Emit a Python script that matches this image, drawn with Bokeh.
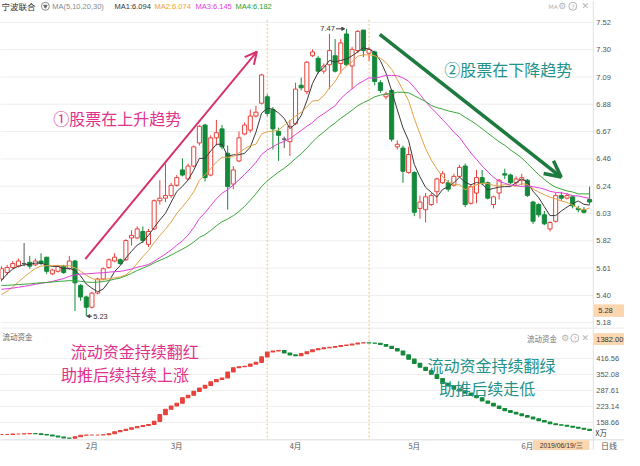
import numpy as np
from bokeh.plotting import figure
from bokeh.layouts import column
from bokeh.models import (ColumnDataSource, Arrow, OpenHead, NormalHead, Label, Range1d)
from bokeh.core.properties import value
from bokeh.embed import file_html
from bokeh.resources import INLINE

# ---------------- data ----------------
opens = [5.52, 5.57, 5.61, 5.62, 5.64, 5.65, 5.63, 5.66, 5.69, 5.56,
         5.58, 5.62, 5.60, 5.66, 5.47, 5.38, 5.30, 5.41, 5.52, 5.61,
         5.66, 5.67, 5.67, 5.84, 5.84, 5.89, 5.79, 5.91, 6.13, 6.15,
         6.17, 6.25, 6.37, 6.30, 6.40, 6.58, 6.72, 6.33, 6.62, 6.69,
         6.50, 6.26, 6.44, 6.65, 6.68, 6.79, 6.89, 6.94, 6.84, 6.67,
         6.61, 6.59, 6.73, 7.03, 6.98, 7.26, 7.24, 7.14, 7.19, 7.26,
         7.20, 7.43, 7.18, 7.30, 7.46, 7.28, 7.29, 7.05, 6.94, 6.99,
         6.55, 6.54, 6.35, 6.35, 6.07, 6.06, 6.10, 6.20, 6.27, 6.27,
         6.25, 6.32, 6.40, 6.11, 6.19, 6.31, 6.27, 6.10, 6.19, 6.34,
         6.33, 6.27, 6.29, 6.29, 6.12, 6.10, 6.02, 5.91, 5.97, 6.17,
         6.15, 6.16, 6.07, 6.06, 6.14]
highs = [5.62, 5.63, 5.66, 5.68, 5.80, 5.70, 5.68, 5.72, 5.69, 5.60,
         5.63, 5.63, 5.70, 5.67, 5.48, 5.39, 5.42, 5.53, 5.61, 5.68,
         5.72, 5.68, 5.83, 5.90, 5.93, 5.93, 5.91, 6.14, 6.29, 6.42,
         6.27, 6.33, 6.46, 6.42, 6.56, 6.72, 6.73, 6.64, 6.76, 6.72,
         6.56, 6.40, 6.67, 6.74, 6.84, 6.87, 7.12, 6.96, 6.86, 6.70,
         6.63, 6.76, 7.05, 7.09, 7.22, 7.31, 7.26, 7.20, 7.43, 7.39,
         7.39, 7.47, 7.33, 7.46, 7.46, 7.33, 7.30, 7.07, 6.98, 7.00,
         6.60, 6.56, 6.55, 6.36, 6.17, 6.19, 6.19, 6.31, 6.36, 6.29,
         6.34, 6.41, 6.42, 6.26, 6.37, 6.37, 6.28, 6.17, 6.30, 6.38,
         6.34, 6.32, 6.34, 6.30, 6.13, 6.11, 6.05, 5.97, 6.19, 6.20,
         6.19, 6.17, 6.09, 6.08, 6.24]
lows = [5.50, 5.55, 5.60, 5.61, 5.62, 5.60, 5.62, 5.63, 5.56, 5.55,
        5.57, 5.56, 5.59, 5.27, 5.35, 5.23, 5.29, 5.40, 5.51, 5.60,
        5.65, 5.63, 5.66, 5.78, 5.83, 5.80, 5.77, 5.90, 6.10, 6.12,
        6.15, 6.24, 6.32, 6.29, 6.39, 6.56, 6.28, 6.32, 6.56, 6.53,
        6.06, 6.22, 6.43, 6.64, 6.66, 6.78, 6.88, 6.79, 6.53, 6.44,
        6.54, 6.48, 6.72, 6.99, 6.96, 7.25, 7.12, 7.12, 7.00, 7.13,
        7.12, 7.18, 7.00, 7.28, 7.25, 7.22, 7.03, 6.97, 6.92, 6.59,
        6.53, 6.27, 6.34, 6.01, 5.99, 5.96, 6.09, 6.11, 6.26, 6.20,
        6.24, 6.31, 6.08, 6.10, 6.11, 6.25, 6.14, 6.07, 6.14, 6.30,
        6.26, 6.25, 6.25, 6.16, 5.95, 6.00, 5.94, 5.89, 5.96, 6.13,
        6.14, 6.07, 6.04, 6.03, 6.10]
closes = [5.60, 5.61, 5.64, 5.66, 5.64, 5.62, 5.66, 5.64, 5.58, 5.59,
          5.62, 5.57, 5.66, 5.49, 5.38, 5.30, 5.41, 5.52, 5.60, 5.67,
          5.69, 5.64, 5.82, 5.86, 5.91, 5.82, 5.89, 6.13, 6.15, 6.17,
          6.25, 6.31, 6.33, 6.40, 6.55, 6.71, 6.31, 6.62, 6.66, 6.55,
          6.24, 6.37, 6.62, 6.72, 6.79, 6.82, 7.11, 6.81, 6.69, 6.64,
          6.61, 6.71, 7.00, 7.01, 7.21, 7.29, 7.14, 7.18, 7.30, 7.14,
          7.36, 7.19, 7.31, 7.45, 7.30, 7.31, 7.06, 6.99, 6.96, 6.61,
          6.57, 6.36, 6.49, 6.04, 6.12, 6.16, 6.17, 6.30, 6.34, 6.22,
          6.32, 6.39, 6.10, 6.24, 6.31, 6.27, 6.15, 6.16, 6.29, 6.33,
          6.27, 6.30, 6.31, 6.17, 5.97, 6.02, 5.95, 5.96, 6.17, 6.15,
          6.17, 6.09, 6.06, 6.04, 6.12]
# closes before the first visible day, estimated from where the MA lines start
prior_closes = [5.58, 5.56, 5.55, 5.57, 5.54, 5.52, 5.53, 5.50, 5.49, 5.46,
                5.52, 5.54, 5.53, 5.50, 5.49, 5.47, 5.48, 5.46, 5.42, 5.39,
                5.36, 5.30, 5.27, 5.26, 5.26, 5.35, 5.45, 5.55, 5.59]
# 流动资金 (万)
flow = [110, 110, 112, 112, 113, 114, 113, 110, 108, 104,
        100, 96, 95, 101, 107, 108, 108, 108, 109, 113,
        121, 126, 131, 137, 142, 146, 150, 163, 190, 212,
        225, 236, 258, 268, 284, 297, 308, 323, 332, 338,
        362, 379, 383, 385, 394, 401, 423, 443, 447, 449,
        439, 431, 428, 436, 444, 452, 456, 460, 462, 465,
        469, 471, 475, 479, 480, 479, 478, 473, 466, 457,
        447, 431, 414, 397, 381, 368, 353, 336, 316, 306,
        293, 286, 277, 267, 258, 245, 236, 225, 215, 206,
        199, 193, 186, 180, 173, 166, 160, 153, 149, 147,
        143, 139, 135, 131, 126]
ma_periods = [5, 10, 20, 30]
ma_header = ["MA1:6.094", "MA2:6.074", "MA3:6.145", "MA4:6.182"]
month_ticks = [16, 31, 52, 73, 93]
month_labels = ["2月", "3月", "4月", "5月", "6月"]
price_ticks = [7.52, 7.307, 7.094, 6.882, 6.669, 6.456, 6.243, 6.031, 5.818, 5.605, 5.392, 5.18]
price_tick_labels = ["7.52", "7.30", "7.09", "6.88", "6.67", "6.46", "6.24", "6.03",
                     "5.82", "5.61", "5.40", "5.18"]
flow_ticks = [416.56, 352.08, 287.61, 223.14, 158.66]
flow_tick_labels = ["416.56", "352.08", "287.61", "223.14", "158.66"]
marker_days = [47, 65]
last_price_label = "5.28"
flow_top_label = "1382.00"
date_label = "2019/06/19/三"

# ---------------- helpers (reference pixel -> data) ----------------
def px_x(x):
    return (x - 1.0) / 5.8

def px_p(y):
    return 7.52 - (y - 22.7) / 133.0

def px_f(y):
    return 416.56 - (y - 371.0) * 3.908

n = len(closes)
idx = list(range(n))
full = prior_closes + closes
P = len(prior_closes)

def moving_average(w):
    return [sum(full[P + k - w + 1:P + k + 1]) / w for k in range(n)]

mas = [moving_average(w) for w in ma_periods]

UP = "#e8413b"
DOWN = "#13893a"
FLAT = "#555555"
PINK = "#e2318a"
TEAL = "#23928a"
PEACH = "#fcd6ae"
GRID = "#eeeeee"
SEP = "#e2e2e2"
DOT = "#f2c274"
MA_COLORS = ["#3a3a3a", "#e3a143", "#e03fd8", "#3aa63a"]
HDR_COLORS = ["#333333", "#f0a030", "#e040e0", "#2aa02a"]
CJK = "Noto Sans CJK SC"
NUMF = "Liberation Sans"

colors, fills = [], []
for o, c in zip(opens, closes):
    if c > o:
        colors.append(UP); fills.append("#ffffff")
    elif c < o:
        colors.append(DOWN); fills.append(DOWN)
    else:
        colors.append(FLAT); fills.append(FLAT)

src = ColumnDataSource(dict(
    i=idx, h=highs, l=lows,
    top=[max(a, b) for a, b in zip(opens, closes)],
    bot=[min(a, b) for a, b in zip(opens, closes)],
    color=colors, fill=fills))

xr = Range1d(px_x(0), px_x(640))
X_EDGE = px_x(608)   # right edge of the plotting area (axis strip beyond)
X_LAB = px_x(611)
X_END = px_x(640)

def base_fig(h, yr):
    f = figure(width=624, height=h, x_range=xr, y_range=yr,
               x_axis_location=None, y_axis_location=None,
               toolbar_location=None, output_backend="svg",
               min_border_left=0, min_border_right=0, min_border_top=0, min_border_bottom=0,
               outline_line_color=None, background_fill_color="white",
               border_fill_color="white")
    f.xgrid.visible = False
    f.ygrid.visible = False
    return f

# ---------------- price panel ----------------
p1 = base_fig(327, Range1d(px_p(339), px_p(0)))

# grid + right price scale
p1.segment(x0=[px_x(0)] * len(price_ticks), y0=price_ticks,
           x1=[X_EDGE] * len(price_ticks), y1=price_ticks, line_color=GRID, line_width=1)
p1.segment(x0=[X_EDGE], y0=[px_p(0)], x1=[X_EDGE], y1=[px_p(339)], line_color=SEP, line_width=1)
p1.text(x=[X_LAB] * len(price_ticks), y=price_ticks, text=price_tick_labels,
        text_font=value(NUMF), text_font_size="7.5px", text_color="#555555",
        text_baseline="middle")
p1.quad(left=[X_EDGE + 0.1], right=[X_END], top=[px_p(315)], bottom=[px_p(328)],
        fill_color=PEACH, line_color=None)
p1.text(x=[px_x(613)], y=[px_p(321.5)], text=[last_price_label], text_font=value(NUMF),
        text_font_size="7.5px", text_color="#333333", text_baseline="middle")

p1.segment(x0=marker_days, y0=[px_p(20)] * 2, x1=marker_days, y1=[px_p(339)] * 2,
           line_color=DOT, line_dash="2 2", line_width=1)

p1.segment(x0="i", y0="l", x1="i", y1="h", color="color", line_width=1, source=src)
p1.vbar(x="i", width=0.72, top="top", bottom="bot", fill_color="fill",
        line_color="color", line_width=1, source=src)
for ma, col in zip(mas, MA_COLORS):
    p1.line(idx, ma, line_color=col, line_width=1)

# header
hy = px_p(6)
p1.add_layout(Label(x=px_x(1), y=hy, text="宁波联合", text_font=CJK, text_font_size="8.5px",
                    text_color="#333333", text_baseline="middle"))
p1.scatter([px_x(46)], [hy], marker="circle", size=8, fill_color="white", line_color="#8a8a8a")
p1.scatter([px_x(46)], [hy], marker="inverted_triangle", size=3.5, color="#666666")
p1.add_layout(Label(x=px_x(53), y=hy, text="MA(5,10,20,30)", text_font=NUMF,
                    text_font_size="7.5px", text_color="#888888", text_baseline="middle"))
for xh, t, col in zip([117, 158, 200, 241], ma_header, HDR_COLORS):
    p1.add_layout(Label(x=px_x(xh), y=hy, text=t, text_font=NUMF, text_font_size="7.5px",
                        text_color=col, text_baseline="middle"))
for xh, t in zip([562, 572, 596], ["MA", "⚙", "✕"]):
    p1.add_layout(Label(x=px_x(xh), y=hy, text=t, text_font="DejaVu Sans",
                        text_font_size="6px" if t == "MA" else "9px",
                        text_color="#b5b5b5", text_baseline="middle"))
p1.scatter([px_x(587)], [hy], marker="circle", size=8, fill_color="white", line_color="#b5b5b5")
p1.add_layout(Label(x=px_x(587), y=hy, text="?", text_font="DejaVu Sans", text_font_size="6px",
                    text_color="#b5b5b5", text_baseline="middle", text_align="center"))

# trend annotations
p1.add_layout(Arrow(end=OpenHead(size=12, line_color="#d8306e", line_width=2),
                    x_start=px_x(87), y_start=px_p(268), x_end=px_x(263), y_end=px_p(53),
                    line_color="#d8306e", line_width=2))
p1.add_layout(Label(x=px_x(54), y=px_p(122), text="①股票在上升趋势", text_font=CJK,
                    text_font_size="16px", text_color=PINK, text_baseline="middle"))
p1.add_layout(Arrow(end=OpenHead(size=16, line_color="#1d7a3e", line_width=3.5),
                    x_start=px_x(389), y_start=px_p(35), x_end=px_x(575), y_end=px_p(183),
                    line_color="#1d7a3e", line_width=3.5))
p1.add_layout(Label(x=px_x(455), y=px_p(71), text="②股票在下降趋势", text_font=CJK,
                    text_font_size="16px", text_color=TEAL, text_baseline="middle"))

# high / low marks
hi_i = int(np.argmax(highs))
lo_i = int(np.argmin(lows))
p1.add_layout(Arrow(end=NormalHead(size=3, fill_color="#444444", line_color="#444444"),
                    x_start=px_x(344), y_start=highs[hi_i], x_end=hi_i - 0.3, y_end=highs[hi_i],
                    line_color="#444444", line_width=1))
p1.add_layout(Label(x=px_x(343), y=highs[hi_i], text="%.2f" % highs[hi_i], text_font=NUMF,
                    text_font_size="7.5px", text_color="#333333", text_baseline="middle",
                    text_align="right"))
p1.add_layout(Arrow(end=NormalHead(size=3, fill_color="#444444", line_color="#444444"),
                    x_start=px_x(94), y_start=lows[lo_i], x_end=lo_i + 0.1, y_end=lows[lo_i],
                    line_color="#444444", line_width=1))
p1.add_layout(Label(x=px_x(95), y=lows[lo_i], text="%.2f" % lows[lo_i], text_font=NUMF,
                    text_font_size="7.5px", text_color="#333333", text_baseline="middle"))

# ---------------- 流动资金 panel ----------------
p2 = base_fig(123, Range1d(px_f(466), px_f(339)))
Y_BOT = px_f(455)

p2.segment(x0=[px_x(0)] * len(flow_ticks), y0=flow_ticks,
           x1=[X_EDGE] * len(flow_ticks), y1=flow_ticks, line_color=GRID, line_width=1)
p2.segment(x0=[px_x(0)], y0=[px_f(339.5)], x1=[X_END], y1=[px_f(339.5)], line_color=SEP)
p2.segment(x0=[px_x(0)], y0=[Y_BOT], x1=[X_END], y1=[Y_BOT], line_color="#dcdcdc")
p2.segment(x0=[X_EDGE], y0=[px_f(339)], x1=[X_EDGE], y1=[px_f(466)], line_color=SEP)
p2.text(x=[X_LAB] * len(flow_ticks), y=flow_ticks, text=flow_tick_labels,
        text_font=value(NUMF), text_font_size="7.5px", text_color="#555555",
        text_baseline="middle")
p2.quad(left=[X_EDGE + 0.1], right=[X_END], top=[px_f(345)], bottom=[px_f(357)],
        fill_color=PEACH, line_color=None)
p2.text(x=[X_LAB], y=[px_f(351)], text=[flow_top_label], text_font=value(NUMF),
        text_font_size="7.5px", text_color="#333333", text_baseline="middle")
p2.text(x=[px_x(610)], y=[px_f(447)], text=["X万"], text_font=value(CJK),
        text_font_size="7.5px", text_color="#333333", text_baseline="middle")

# month scale
p2.text(x=month_ticks, y=[px_f(461)] * len(month_ticks), text=month_labels,
        text_font=value(CJK), text_font_size="7.5px", text_color="#555555",
        text_baseline="middle", text_align="center")
p2.quad(left=[px_x(546)], right=[px_x(604)], top=[px_f(455.5)], bottom=[px_f(466)],
        fill_color=PEACH, line_color=None)
p2.text(x=[px_x(575)], y=[px_f(460.5)], text=[date_label], text_font=value(NUMF),
        text_font_size="6.8px", text_color="#333333", text_baseline="middle",
        text_align="center")
p2.text(x=[px_x(616)], y=[px_f(460.5)], text=["日线"], text_font=value(CJK),
        text_font_size="8px", text_color="#555555", text_baseline="middle")

p2.segment(x0=marker_days, y0=[px_f(339)] * 2, x1=marker_days, y1=[Y_BOT] * 2,
           line_color=DOT, line_dash="2 2", line_width=1)

prev = [flow[0]] + flow[:-1]
fsrc = ColumnDataSource(dict(
    left=[k - 0.32 for k in idx], right=[k + 0.32 for k in idx],
    top=[max(a, b) for a, b in zip(prev, flow)],
    bottom=[min(a, b) for a, b in zip(prev, flow)],
    color=[UP if b >= a else DOWN for a, b in zip(prev, flow)]))
p2.quad(left="left", right="right", top="top", bottom="bottom", fill_color="color",
        line_color="color", line_width=1.1, source=fsrc)

p2.add_layout(Label(x=px_x(2), y=px_f(348), text="流动资金", text_font=CJK,
                    text_font_size="7.5px", text_color="#666666", text_baseline="middle"))
p2.add_layout(Label(x=px_x(540), y=px_f(350), text="流动资金", text_font=CJK,
                    text_font_size="7.5px", text_color="#777777", text_baseline="middle"))
for xh, t in zip([575, 596], ["⚙", "✕"]):
    p2.add_layout(Label(x=px_x(xh), y=px_f(350), text=t, text_font="DejaVu Sans",
                        text_font_size="9px", text_color="#b5b5b5", text_baseline="middle"))
p2.scatter([px_x(589)], [px_f(350)], marker="circle", size=8, fill_color="white",
           line_color="#b5b5b5")
p2.add_layout(Label(x=px_x(589), y=px_f(350), text="?", text_font="DejaVu Sans",
                    text_font_size="6px", text_color="#b5b5b5", text_baseline="middle",
                    text_align="center"))

p2.add_layout(Label(x=px_x(72), y=px_f(363), text="流动资金持续翻红", text_font=CJK,
                    text_font_size="16px", text_color=PINK, text_baseline="middle"))
p2.add_layout(Label(x=px_x(62), y=px_f(387), text="助推后续持续上涨", text_font=CJK,
                    text_font_size="16px", text_color=PINK, text_baseline="middle"))
p2.add_layout(Label(x=px_x(438), y=px_f(378), text="流动资金持续翻绿", text_font=CJK,
                    text_font_size="16px", text_color=TEAL, text_baseline="middle"))
p2.add_layout(Label(x=px_x(450), y=px_f(401), text="助推后续走低", text_font=CJK,
                    text_font_size="16px", text_color=TEAL, text_baseline="middle"))

layout = column(p1, p2, spacing=0)
open("out.html", "w").write(file_html(layout, INLINE))
